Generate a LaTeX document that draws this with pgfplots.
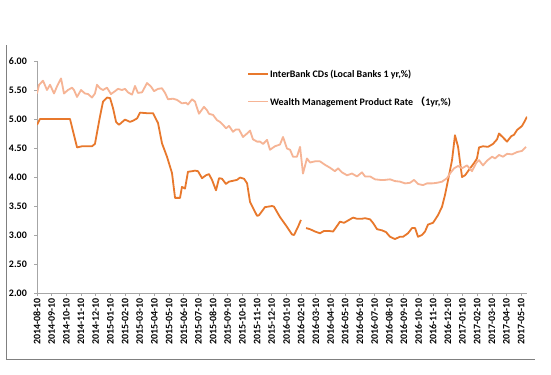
\documentclass[border=0pt]{standalone}
\usepackage{fontspec}
\setmainfont{Carlito}
\newfontfamily\cjk{Noto Sans CJK SC}
\usepackage{pgfplots}
\usepackage{pgfplotstable}
\pgfplotsset{compat=1.18}
\definecolor{cdc}{HTML}{E8782C}
\definecolor{wmpc}{HTML}{F6B495}
\definecolor{axgray}{HTML}{A6A6A6}
\definecolor{framegray}{HTML}{808080}

\pgfplotstableread{
m v
0 4.90
0.20 5.00
2.25 5.00
2.73 4.51
3.07 4.53
3.75 4.53
3.95 4.57
4.29 5.04
4.50 5.30
4.77 5.37
4.98 5.36
5.18 5.19
5.39 4.95
5.59 4.90
6.00 4.99
6.34 4.95
6.54 4.97
6.82 5.01
7.02 5.11
7.50 5.10
7.91 5.10
8.25 4.93
8.52 4.58
8.86 4.35
9.20 4.07
9.41 3.64
9.75 3.64
9.88 3.83
10.09 3.80
10.29 4.09
10.57 4.10
10.77 4.11
10.97 4.10
11.25 3.98
11.52 4.03
11.72 4.05
11.93 3.95
12.20 3.77
12.41 3.98
12.61 3.97
12.88 3.88
13.09 3.92
13.63 3.95
13.84 3.99
14.11 3.97
14.32 3.89
14.52 3.57
15.00 3.33
15.13 3.34
15.54 3.48
16.02 3.50
16.15 3.49
16.56 3.31
17.04 3.14
17.38 3.01
17.52 3.00
17.79 3.14
17.99 3.26
18.15 nan
18.34 3.12
18.61 3.10
18.95 3.06
19.29 3.03
19.56 3.07
19.90 3.07
20.18 3.06
20.38 3.13
20.65 3.23
20.93 3.21
21.27 3.26
21.54 3.30
21.81 3.28
22.15 3.28
22.36 3.29
22.70 3.27
22.90 3.21
23.18 3.10
23.52 3.08
23.79 3.05
24.06 2.97
24.40 2.93
24.74 2.97
24.95 2.97
25.29 3.03
25.56 3.12
25.77 3.12
25.97 2.97
26.24 3.00
26.45 3.06
26.65 3.18
26.99 3.21
27.33 3.34
27.61 3.49
27.81 3.69
28.02 3.95
28.29 4.29
28.49 4.72
28.70 4.52
28.97 4.00
29.18 4.03
29.52 4.15
29.79 4.24
29.99 4.32
30.13 4.51
30.40 4.53
30.74 4.52
30.95 4.55
31.08 4.57
31.36 4.65
31.49 4.75
31.77 4.68
32.04 4.61
32.31 4.70
32.52 4.73
32.72 4.81
33.06 4.88
33.26 4.97
33.40 5.04
}\cdtable

\pgfplotstableread{
m v
0 5.44
0.14 5.59
0.41 5.66
0.68 5.50
0.89 5.59
1.16 5.44
1.36 5.56
1.64 5.70
1.84 5.44
2.11 5.50
2.39 5.54
2.52 5.50
2.73 5.38
3.00 5.50
3.27 5.44
3.48 5.43
3.75 5.37
3.95 5.44
4.09 5.59
4.29 5.53
4.50 5.50
4.77 5.54
5.04 5.43
5.32 5.48
5.52 5.52
5.79 5.50
6.00 5.52
6.20 5.46
6.48 5.42
6.68 5.57
6.88 5.45
7.16 5.46
7.50 5.62
7.77 5.56
7.98 5.48
8.25 5.52
8.52 5.53
8.73 5.45
8.93 5.34
9.27 5.35
9.54 5.33
9.88 5.27
10.16 5.28
10.29 5.25
10.57 5.34
10.77 5.30
11.04 5.09
11.38 5.21
11.59 5.15
11.72 5.09
12.00 5.07
12.27 4.98
12.47 4.95
12.68 4.90
12.88 4.84
13.09 4.88
13.36 4.78
13.56 4.82
13.77 4.82
14.04 4.69
14.32 4.75
14.52 4.80
14.72 4.65
15.00 4.61
15.20 4.61
15.41 4.57
15.68 4.64
15.88 4.47
16.22 4.53
16.56 4.56
16.77 4.69
17.04 4.49
17.25 4.47
17.45 4.35
17.72 4.35
17.93 4.52
18.13 4.06
18.40 4.32
18.61 4.25
18.95 4.27
19.29 4.27
19.63 4.21
19.97 4.16
20.31 4.10
20.52 4.15
20.79 4.08
21.13 4.03
21.47 4.06
21.81 4.01
22.15 4.08
22.36 4.01
22.70 4.01
23.04 3.96
23.38 3.95
23.72 3.95
24.06 3.96
24.40 3.93
24.74 3.92
25.09 3.89
25.43 3.90
25.70 3.95
25.97 3.88
26.31 3.86
26.58 3.89
26.93 3.89
27.27 3.90
27.61 3.92
27.95 3.98
28.15 4.06
28.43 4.15
28.70 4.19
28.97 4.15
29.31 4.20
29.65 4.10
29.93 4.24
30.13 4.29
30.40 4.20
30.67 4.28
31.02 4.35
31.22 4.32
31.49 4.38
31.77 4.35
32.04 4.40
32.38 4.39
32.72 4.43
33.06 4.45
33.33 4.52
}\wmptable

\begin{document}
\begin{tikzpicture}[x=1bp,y=1bp]
\useasboundingbox (0,0) rectangle (551,374);
\fill[white] (0,0) rectangle (551,374);
\draw[framegray, line width=1bp] (6,329) -- (6,15) -- (535,15);
\begin{axis}[
  at={(37bp,81bp)}, anchor=south west,
  scale only axis, width=490bp, height=232bp,
  xmin=0, xmax=33.4, ymin=2, ymax=6,
  axis x line=bottom, axis y line=left,
  axis line style={-, axgray, line width=0.8bp},
  tick style={axgray, line width=0.6bp},
  tick align=outside, major tick length=3bp,
  xtick={0,...,33},
  xticklabels={2014-08-10,2014-09-10,2014-10-10,2014-11-10,2014-12-10,2015-01-10,2015-02-10,2015-03-10,2015-04-10,2015-05-10,2015-06-10,2015-07-10,2015-08-10,2015-09-10,2015-10-10,2015-11-10,2015-12-10,2016-01-10,2016-02-10,2016-03-10,2016-04-10,2016-05-10,2016-06-10,2016-07-10,2016-08-10,2016-09-10,2016-10-10,2016-11-10,2016-12-10,2017-01-10,2017-02-10,2017-03-10,2017-04-10,2017-05-10},
  x tick label style={rotate=90, anchor=east, font=\fontsize{10}{11}\selectfont\bfseries, inner sep=1bp, xshift=-1bp},
  ytick={2,2.5,...,6},
  y tick label style={/pgf/number format/fixed, /pgf/number format/fixed zerofill, /pgf/number format/precision=2, /pgf/number format/assume math mode=true, font=\fontsize{10}{11}\selectfont\bfseries, inner sep=1bp, xshift=-6bp},
  unbounded coords=jump,
  legend cell align=left,
  legend style={at={(0.4286,0.968)}, anchor=north west, draw=none, fill=none,
    font=\fontsize{10}{11}\selectfont\bfseries, row sep=16bp, inner sep=0pt,
    nodes={inner sep=1bp}},
  legend image code/.code={\draw[#1] (0bp,0bp) -- (20bp,0bp);},
]
\addplot[cdc, line width=1.8bp, line join=round] table[x=m, y=v] {\cdtable};
\addlegendentry{InterBank CDs (Local Banks 1 yr,\%)}
\addplot[wmpc, line width=1.8bp, line join=round] table[x=m, y=v] {\wmptable};
\addlegendentry{Wealth Management Product Rate {\cjk （}1yr,\%)}
\end{axis}
\end{tikzpicture}
\end{document}
